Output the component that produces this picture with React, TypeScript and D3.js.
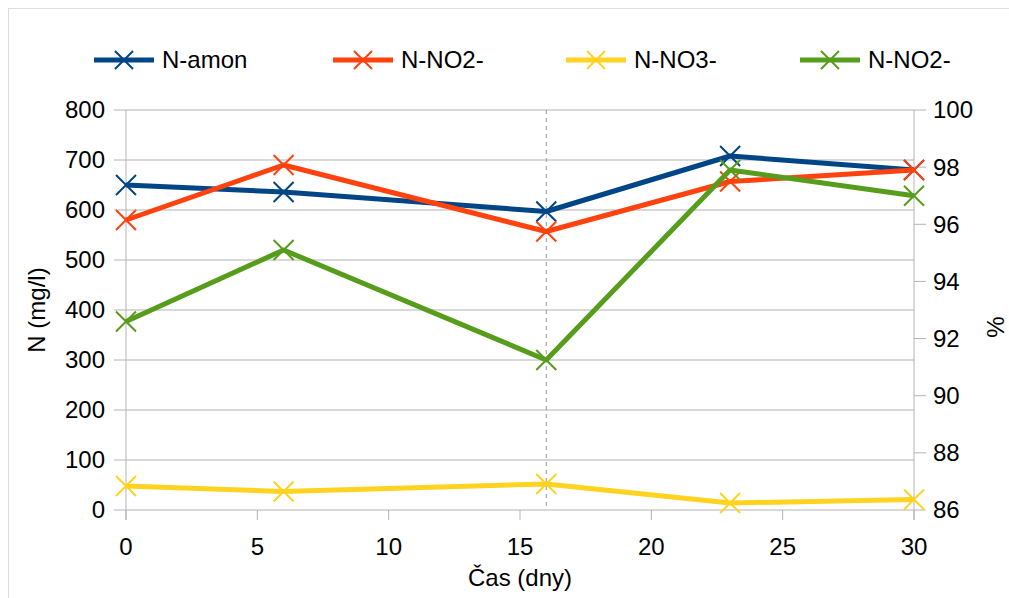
import React from "react";
import * as d3 from "d3";

const days = [0, 6, 16, 23, 30];
const nAmon = [650, 636, 597, 708, 680];
const nNO2 = [580, 690, 557, 657, 680];
const nNO3 = [48, 37, 52, 14, 21];
const nNO2pct = [92.6, 95.1, 91.25, 97.9, 97.0];
const leftTicks = [0, 100, 200, 300, 400, 500, 600, 700, 800];
const rightTicks = [86, 88, 90, 92, 94, 96, 98, 100];
const xTicks = [0, 5, 10, 15, 20, 25, 30];
const legendNames = ["N-amon", "N-NO2-", "N-NO3-", "N-NO2-"];
const colors = ["#004586", "#ff420e", "#ffd320", "#579d1c"];

const W = 1009;
const H = 598;
const FONT = "'Liberation Sans', Arial, sans-serif";

export default function App() {
  const x = d3.scaleLinear().domain([0, 30]).range([126, 914]);
  const yL = d3.scaleLinear().domain([0, 800]).range([510, 110]);
  const yR = d3.scaleLinear().domain([86, 100]).range([510, 110]);

  const series = [
    { vals: nAmon, y: yL },
    { vals: nNO2, y: yL },
    { vals: nNO3, y: yL },
    { vals: nNO2pct, y: yR },
  ];

  const line = (vals: number[], y: d3.ScaleLinear<number, number>) =>
    d3
      .line<number>()
      .x((_, i) => x(days[i]))
      .y((v) => y(v))(vals) || "";

  const cross = (cx: number, cy: number, s: number) =>
    `M${cx - s},${cy - s}L${cx + s},${cy + s}M${cx - s},${cy + s}L${cx + s},${cy - s}`;

  const legendX = [94, 333, 566, 800];

  return (
    <svg
      width={W}
      height={H}
      style={{ position: "absolute", left: 0, top: 0, background: "#fff" }}
      fontFamily={FONT}
    >
      <rect x={8.5} y={8.5} width={W + 20} height={H + 20} fill="none" stroke="#dddddd" strokeWidth={1} />

      {/* gridlines */}
      {leftTicks.map((t) => (
        <line key={"g" + t} x1={114} x2={914} y1={yL(t)} y2={yL(t)} stroke="#b3b3b3" strokeWidth={1} />
      ))}
      {/* axes verticals */}
      <line x1={x(0)} x2={x(0)} y1={110} y2={520} stroke="#b3b3b3" strokeWidth={1} />
      <line x1={x(30)} x2={x(30)} y1={110} y2={520} stroke="#b3b3b3" strokeWidth={1} />
      {/* x ticks */}
      {xTicks.map((t) => (
        <line key={"xt" + t} x1={x(t)} x2={x(t)} y1={510} y2={520} stroke="#b3b3b3" strokeWidth={1} />
      ))}
      {/* right ticks */}
      {rightTicks.map((t) => (
        <line key={"rt" + t} x1={914} x2={926} y1={yR(t)} y2={yR(t)} stroke="#b3b3b3" strokeWidth={1} />
      ))}
      {/* dashed line at 16 */}
      <line x1={x(16)} x2={x(16)} y1={110} y2={510} stroke="#999999" strokeWidth={1} strokeDasharray="4,4" />

      {/* tick labels */}
      {leftTicks.map((t) => (
        <text key={"lt" + t} x={105} y={yL(t)} dy="0.35em" textAnchor="end" fontSize={24} fill="#000">
          {t}
        </text>
      ))}
      {rightTicks.map((t) => (
        <text key={"rl" + t} x={933} y={yR(t)} dy="0.35em" textAnchor="start" fontSize={24} fill="#000">
          {t}
        </text>
      ))}
      {xTicks.map((t) => (
        <text key={"xl" + t} x={x(t)} y={555} textAnchor="middle" fontSize={24} fill="#000">
          {t}
        </text>
      ))}

      {/* axis titles */}
      <text x={520} y={586} textAnchor="middle" fontSize={24} fill="#000">
        Čas (dny)
      </text>
      <text transform={`translate(45,310) rotate(-90)`} textAnchor="middle" fontSize={24} fill="#000">
        N (mg/l)
      </text>
      <text transform={`translate(1004,327) rotate(-90)`} textAnchor="middle" fontSize={24} fill="#000">
        %
      </text>

      {/* series */}
      {series.map((s, si) => (
        <g key={"s" + si}>
          <path d={line(s.vals, s.y)} fill="none" stroke={colors[si]} strokeWidth={5} strokeLinejoin="round" />
          {s.vals.map((v, i) => (
            <path key={i} d={cross(x(days[i]), s.y(v), 10)} stroke={colors[si]} strokeWidth={2} fill="none" />
          ))}
        </g>
      ))}

      {/* legend */}
      {legendNames.map((n, i) => (
        <g key={"lg" + i}>
          <line x1={legendX[i]} x2={legendX[i] + 60} y1={60} y2={60} stroke={colors[i]} strokeWidth={5} />
          <path d={cross(legendX[i] + 30, 60, 9)} stroke={colors[i]} strokeWidth={2} fill="none" />
          <text x={legendX[i] + 68} y={60} dy="0.35em" fontSize={24} fill="#000">
            {n}
          </text>
        </g>
      ))}
    </svg>
  );
}
